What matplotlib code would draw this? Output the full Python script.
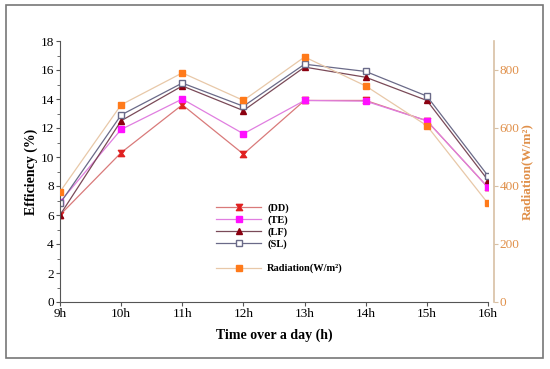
import numpy as np
import matplotlib
matplotlib.use("Agg")
import matplotlib.pyplot as plt
from matplotlib.path import Path
from matplotlib.patches import Rectangle
from matplotlib.lines import Line2D

plt.rcParams['font.family'] = ['Liberation Serif', 'DejaVu Serif']

hours = ['9h', '10h', '11h', '12h', '13h', '14h', '15h', '16h']
dd = [6.0, 10.3, 13.6, 10.2, 13.9, 13.9, 12.5, 7.9]
te = [6.9, 11.9, 14.0, 11.6, 13.9, 13.85, 12.5, 7.9]
lf = [6.0, 12.5, 14.9, 13.2, 16.2, 15.5, 13.9, 8.4]
sl = [6.8, 12.9, 15.1, 13.5, 16.4, 15.9, 14.2, 8.7]
radiation = [380, 680, 790, 695, 845, 745, 608, 340]

# hourglass marker for DD
hg = Path([(-1, 1), (1, 1), (0.25, 0), (1, -1), (-1, -1), (-0.25, 0), (-1, 1)],
          [Path.MOVETO] + [Path.LINETO] * 5 + [Path.CLOSEPOLY])

fig = plt.figure(figsize=(5.5, 3.69), dpi=100)
fig.patches.append(Rectangle((6 / 550, 1 - 358 / 369), 537 / 550, 353 / 369,
                             transform=fig.transFigure, fill=False,
                             edgecolor='#777777', linewidth=1.2))

ax = fig.add_axes([60 / 550, 1 - 302 / 369, 428 / 550, 261 / 369])
x = np.arange(len(hours))

ax.plot(x, dd, color='#d97a7a', lw=0.9, marker=hg, ms=4.5, mfc='#e02020', mec='#e02020', label='(DD)')
ax.plot(x, te, color='#e07ee0', lw=0.9, marker='s', ms=4.5, mfc='#ff10ff', mec='#ff10ff', label='(TE)')
ax.plot(x, lf, color='#7a4a58', lw=0.9, marker='^', ms=4.5, mfc='#8b0010', mec='#8b0010', label='(LF)')
ax.plot(x, sl, color='#6a6a88', lw=0.9, marker='s', ms=4.5, mfc='white', mec='#6a6a88', label='(SL)')

ax2 = ax.twinx()
ax2.plot(x, radiation, color='#e8c8a8', lw=0.9, marker='s', ms=4.2, mfc='#ff7a1a', mec='#ff7a1a')

ax.set_xlim(0, 7)
ax.set_ylim(0, 18)
ax2.set_ylim(0, 900)
ax.set_xticks(x)
ax.set_xticklabels(hours)
ax.set_yticks(np.arange(0, 19, 2))
ax.set_yticks(np.arange(0, 19, 1), minor=True)
ax2.set_yticks(np.arange(0, 801, 200))
ax2.set_yticks(np.arange(0, 901, 100), minor=True)

for s in ['top', 'right']:
    ax.spines[s].set_visible(False)
for s in ['top', 'left', 'bottom']:
    ax2.spines[s].set_visible(False)
ax.spines['left'].set_color('#555555')
ax.spines['bottom'].set_color('#555555')
ax2.spines['right'].set_color('#d8c0a4')
ax2.spines['right'].set_position(('outward', 4))
ax2.spines['right'].set_linewidth(1.2)

ax.tick_params(axis='both', labelsize=9.5, length=3, color='#555555', pad=1.5)
ax.tick_params(axis='y', which='minor', length=2, color='#555555')
ax.tick_params(axis='x', which='minor', bottom=False)
ax2.tick_params(axis='y', labelsize=9.5, length=3, color='#d8c0a4', labelcolor='#e0904a', pad=1.5)
ax2.tick_params(axis='y', which='minor', length=0)

ax.set_xlabel('Time over a day (h)', fontsize=10, fontweight='bold', labelpad=6)
ax.set_ylabel('Efficiency (%)', fontsize=10, fontweight='bold', labelpad=2)
ax2.set_ylabel('Radiation(W/m²)', fontsize=9.5, fontweight='bold', color='#e0904a', labelpad=1)

handles, labels = ax.get_legend_handles_labels()
blank = Line2D([], [], color='none')
rad_h = Line2D([], [], color='#e8c8a8', lw=0.9, marker='s', ms=4.2, mfc='#ff7a1a', mec='#ff7a1a')
handles += [blank, rad_h]
labels += ['', 'Radiation(W/m²)']
ax.legend(handles, labels, loc='upper left', bbox_to_anchor=(0.355, 0.395), frameon=False,
          prop={'weight': 'bold', 'size': 7.5}, handlelength=4.3, labelspacing=0.25,
          handletextpad=0.6, borderaxespad=0)

fig.savefig('out.png', dpi=100)
